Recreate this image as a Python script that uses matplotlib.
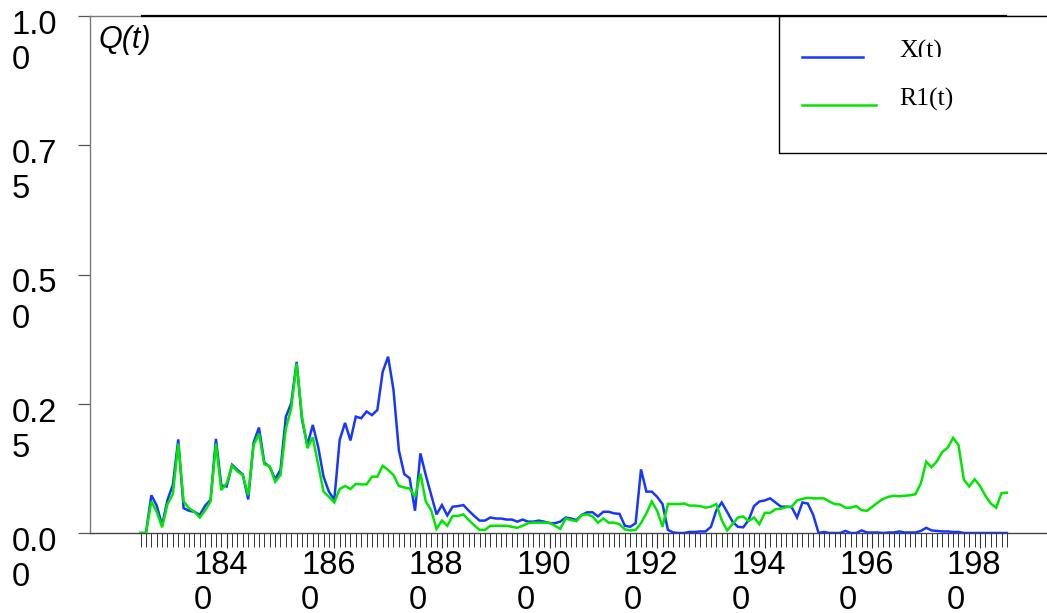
import numpy as np
import matplotlib
matplotlib.use("Agg")
import matplotlib.pyplot as plt
from matplotlib.patches import Rectangle
from matplotlib.lines import Line2D
from matplotlib.transforms import blended_transform_factory, Bbox, ScaledTranslation

# ---------------- data ----------------
years = list(range(1824, 1986))

x_t = [0.0, 0.0, 0.073, 0.053, 0.015, 0.064, 0.093, 0.181, 0.048, 0.043,
       0.041, 0.035, 0.053, 0.064, 0.182, 0.092, 0.090, 0.132, 0.122, 0.113,
       0.065, 0.175, 0.204, 0.136, 0.128, 0.104, 0.122, 0.225, 0.251, 0.331,
       0.219, 0.170, 0.209, 0.167, 0.109, 0.080, 0.064, 0.180, 0.213, 0.179,
       0.225, 0.222, 0.235, 0.228, 0.238, 0.312, 0.341, 0.277, 0.160, 0.114,
       0.106, 0.043, 0.154, 0.112, 0.074, 0.036, 0.054, 0.034, 0.051, 0.052,
       0.054, 0.043, 0.033, 0.024, 0.024, 0.030, 0.028, 0.028, 0.026, 0.026,
       0.022, 0.026, 0.022, 0.022, 0.024, 0.022, 0.019, 0.019, 0.022, 0.030,
       0.028, 0.025, 0.035, 0.040, 0.040, 0.032, 0.041, 0.041, 0.038, 0.037,
       0.014, 0.012, 0.019, 0.123, 0.080, 0.080, 0.070, 0.056, 0.006, 0.001,
       0.0, 0.0, 0.002, 0.002, 0.003, 0.003, 0.012, 0.044, 0.059, 0.041,
       0.022, 0.012, 0.011, 0.025, 0.052, 0.061, 0.063, 0.067, 0.059, 0.051,
       0.051, 0.050, 0.030, 0.059, 0.057, 0.035, 0.0, 0.002, 0.0, 0.0,
       0.0, 0.004, 0.0, 0.0, 0.005, 0.001, 0.001, 0.001, 0.0, 0.001,
       0.001, 0.003, 0.001, 0.001, 0.001, 0.004, 0.010, 0.005, 0.004, 0.003,
       0.003, 0.002, 0.002, 0.0, 0.0, 0.0, 0.0, 0.0, 0.0, 0.0,
       0.0, 0.0]

r1_t = [0.0, 0.0, 0.061, 0.041, 0.011, 0.056, 0.075, 0.173, 0.061, 0.048,
        0.041, 0.030, 0.044, 0.061, 0.173, 0.083, 0.096, 0.130, 0.119, 0.112,
        0.073, 0.170, 0.192, 0.133, 0.129, 0.099, 0.112, 0.202, 0.241, 0.328,
        0.225, 0.164, 0.185, 0.132, 0.080, 0.070, 0.059, 0.085, 0.091, 0.085,
        0.095, 0.094, 0.094, 0.109, 0.109, 0.130, 0.122, 0.112, 0.091, 0.088,
        0.086, 0.070, 0.115, 0.061, 0.044, 0.008, 0.024, 0.014, 0.033, 0.033,
        0.036, 0.025, 0.015, 0.006, 0.006, 0.014, 0.014, 0.014, 0.014, 0.012,
        0.010, 0.014, 0.019, 0.020, 0.020, 0.020, 0.020, 0.014, 0.008, 0.028,
        0.025, 0.023, 0.035, 0.036, 0.032, 0.020, 0.028, 0.020, 0.020, 0.017,
        0.007, 0.005, 0.006, 0.019, 0.038, 0.061, 0.043, 0.012, 0.056, 0.056,
        0.056, 0.057, 0.053, 0.053, 0.052, 0.049, 0.051, 0.056, 0.025, 0.005,
        0.017, 0.030, 0.032, 0.023, 0.030, 0.017, 0.039, 0.039, 0.046, 0.047,
        0.050, 0.051, 0.063, 0.066, 0.068, 0.067, 0.067, 0.067, 0.061, 0.056,
        0.055, 0.049, 0.049, 0.052, 0.044, 0.043, 0.051, 0.059, 0.066, 0.070,
        0.072, 0.071, 0.072, 0.073, 0.075, 0.096, 0.138, 0.127, 0.139, 0.157,
        0.165, 0.184, 0.170, 0.103, 0.090, 0.104, 0.091, 0.072, 0.057, 0.049,
        0.077, 0.078]

x_major = [1840, 1860, 1880, 1900, 1920, 1940, 1960, 1980]
x_labels = ["184\n0", "186\n0", "188\n0", "190\n0", "192\n0", "194\n0", "196\n0", "198\n0"]
y_ticks = [0.0, 0.25, 0.5, 0.75, 1.0]
y_labels = ["0.0\n0", "0.2\n5", "0.5\n0", "0.7\n5", "1.0\n0"]
series_names = ["X(t)", "R1(t)"]
series_colors = ["#1737FF", "#00E600"]

# ---------------- figure ----------------
W, H = 1047, 613
fig = plt.figure(figsize=(W / 100, H / 100), dpi=100)
SANS = ["Liberation Sans", "DejaVu Sans"]
SERIF = ["Liberation Serif", "DejaVu Serif"]
FS = 23.5
LS = 1.17

ax = fig.add_axes([90 / W, (H - 533) / H, 1 - 90 / W, (533 - 16) / H])
ax.set_xlim(1814.6, 1992.45)
ax.set_ylim(0, 1)

ax.plot(years, x_t, color=series_colors[0], lw=1.8, solid_joinstyle="miter", zorder=3)
ax.plot(years, r1_t, color=series_colors[1], lw=1.8, solid_joinstyle="miter", zorder=4)
# top rule over the data range
ax.hlines(1.0, years[0], years[-1], color="black", lw=1.6, zorder=5, clip_on=False)

ax.spines["right"].set_visible(False)
ax.spines["left"].set_color("#7a7a7a")
ax.spines["bottom"].set_color("#444444")
ax.spines["top"].set_color("#7a7a7a")
for s in ["left", "bottom", "top"]:
    ax.spines[s].set_linewidth(1.0)

# x ticks
ax.set_xticks(x_major)
ax.set_xticks(years, minor=True)
ax.set_xticklabels(x_labels, fontsize=FS, family=SANS, multialignment="left",
                   linespacing=LS, va="top")
ax.tick_params(axis="x", which="major", direction="out", length=11, width=0.8,
               color="#333333", pad=1.5)
ax.tick_params(axis="x", which="minor", direction="out", length=10, width=0.7,
               color="#333333")
xshift = ScaledTranslation(-6 / 100, 0, fig.dpi_scale_trans)
for lbl in ax.get_xticklabels():
    lbl.set_transform(lbl.get_transform() + xshift)

# y ticks (labels drawn as text, left aligned, top near tick)
ax.set_yticks(y_ticks)
ax.set_yticklabels([])
ax.tick_params(axis="y", which="major", direction="out", length=8.6, width=0.9,
               color="#555555")
blend = blended_transform_factory(fig.transFigure, ax.transData)
off = ScaledTranslation(0, 6 / 100, fig.dpi_scale_trans)
for yv, lab in zip(y_ticks, y_labels):
    ax.text(11.5 / W, yv, lab, transform=blend + off, ha="left", va="top",
            fontsize=FS, family=SANS, linespacing=LS, clip_on=False)

# Q(t) label
fig.text(98 / W, (H - 25) / H, "Q(t)", fontsize=22, style="italic",
         family=SANS, ha="left", va="top")

# legend box
rect = Rectangle((779 / W, (H - 153) / H), 0.4, (153 - 16) / H, transform=fig.transFigure,
                 facecolor="white", edgecolor="black", lw=1.0, zorder=10)
fig.add_artist(rect)
fig.add_artist(Line2D([802 / W, 863 / W], [(H - 57) / H] * 2, color=series_colors[0],
                      lw=1.8, transform=fig.transFigure, zorder=11))
fig.add_artist(Line2D([802 / W, 876 / W], [(H - 105) / H] * 2, color=series_colors[1],
                      lw=1.8, transform=fig.transFigure, zorder=11))
t1 = fig.text(899 / W, (H - 58) / H, series_names[0], fontsize=18.5, family=SERIF,
              ha="left", va="baseline", zorder=12)
t1.set_clip_box(Bbox.from_extents(0, H - 57, W, H))
t1.set_clip_on(True)
fig.text(899 / W, (H - 106) / H, series_names[1], fontsize=18.5, family=SERIF,
         ha="left", va="baseline", zorder=12)

fig.savefig("out.png", dpi=100)
